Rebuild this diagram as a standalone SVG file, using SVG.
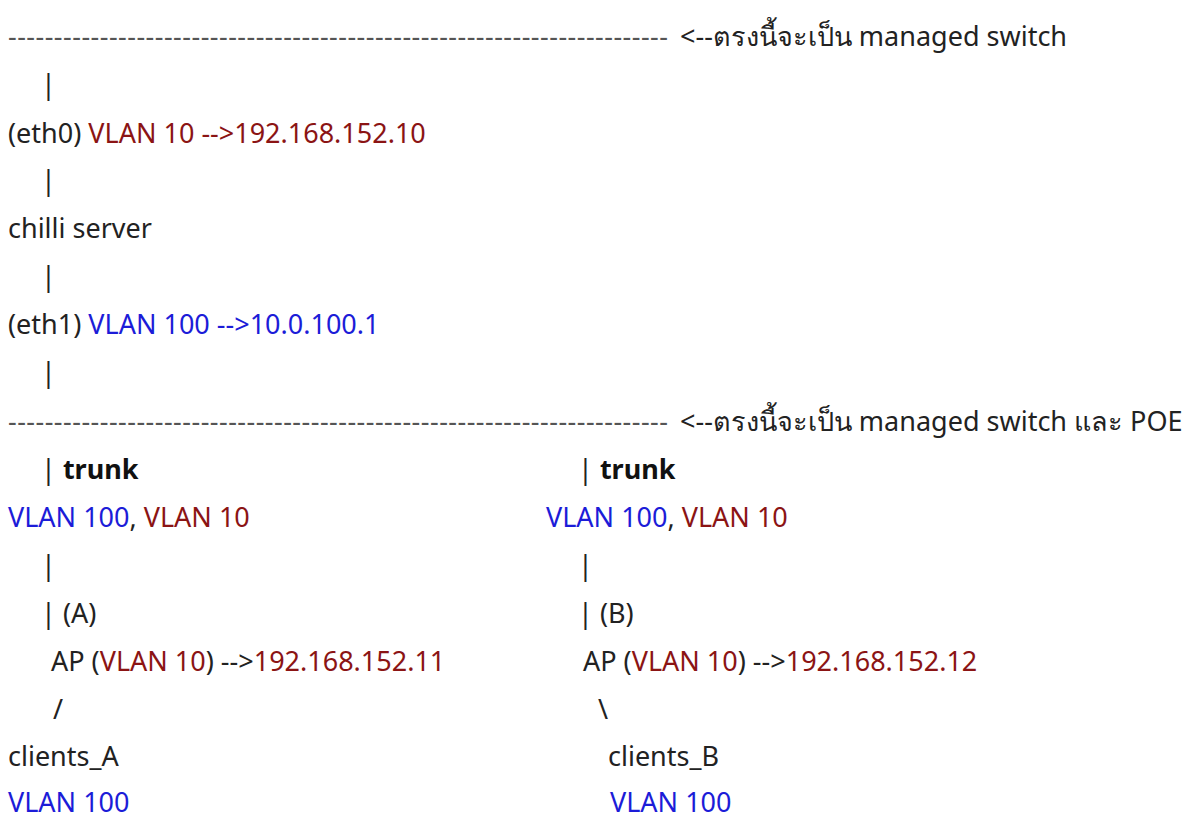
<svg xmlns="http://www.w3.org/2000/svg" width="1194" height="818" viewBox="0 0 1194 818">
<style>
text{font-family:"Noto Sans","Liberation Sans",sans-serif;font-size:27px;fill:#222}
.r{fill:#8b1414}
.b{fill:#1c1cd8}
.bold{font-weight:bold;fill:#111}
.d{fill:#555}
</style>
<rect width="1194" height="818" fill="#fff"/>
<g id="switch1">
<text class="d" x="8" y="46" textLength="660" lengthAdjust="spacing">------------------------------------------------------------------------</text>
<text x="680" y="46">&lt;--ตรงนี้จะเป็น managed switch</text>
</g>
<g id="eth0">
<text x="8" y="143">(eth0) <tspan class="r">VLAN 10 --&gt;192.168.152.10</tspan></text>
</g>
<g id="chilli">
<text x="8" y="238">chilli server</text>
</g>
<g id="eth1">
<text x="8" y="334">(eth1) <tspan class="b">VLAN 100 --&gt;10.0.100.1</tspan></text>
</g>
<g id="switch2">
<text class="d" x="8" y="431" textLength="660" lengthAdjust="spacing">------------------------------------------------------------------------</text>
<text x="680" y="431">&lt;--ตรงนี้จะเป็น managed switch และ POE</text>
</g>
<g id="trunkA">
<text x="8" y="527"><tspan class="b">VLAN 100</tspan>, <tspan class="r">VLAN 10</tspan></text>
</g>
<g id="trunkB">
<text x="546" y="527"><tspan class="b">VLAN 100</tspan>, <tspan class="r">VLAN 10</tspan></text>
</g>
<g id="apA">
<text x="51" y="671">AP (<tspan class="r">VLAN 10</tspan>) --&gt;<tspan class="r">192.168.152.11</tspan></text>
</g>
<g id="apB">
<text x="583" y="671">AP (<tspan class="r">VLAN 10</tspan>) --&gt;<tspan class="r">192.168.152.12</tspan></text>
</g>
<g id="clientsA">
<text x="8" y="766">clients_A</text>
<text class="b" x="8" y="812">VLAN 100</text>
</g>
<g id="clientsB">
<text x="608" y="766">clients_B</text>
<text class="b" x="610" y="812">VLAN 100</text>
</g>
<g id="connectors">
<text x="41" y="94">|</text>
<text x="41" y="190">|</text>
<text x="41" y="286">|</text>
<text x="41" y="382">|</text>
<text x="41" y="479">| <tspan class="bold">trunk</tspan></text>
<text x="578" y="479">| <tspan class="bold">trunk</tspan></text>
<text x="41" y="575">|</text>
<text x="578" y="575">|</text>
<text x="41" y="623">| (A)</text>
<text x="578" y="623">| (B)</text>
<text x="53" y="719">/</text>
<text x="598" y="719">\</text>
</g>
</svg>
